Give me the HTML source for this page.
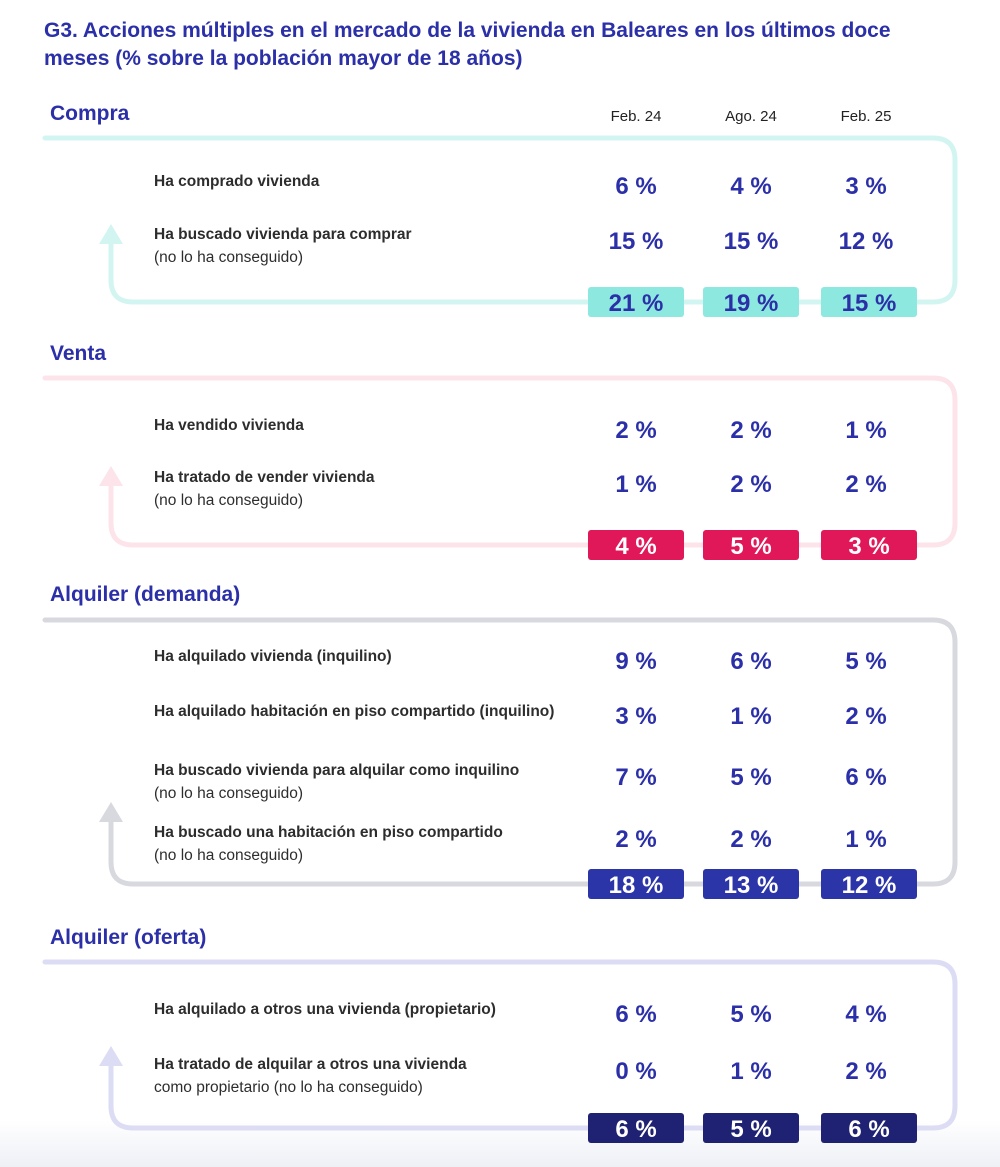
<!DOCTYPE html>
<html><head><meta charset="utf-8"><style>
body{margin:0;background:#fff;width:1000px;height:1167px;overflow:hidden;font-family:"Liberation Sans",sans-serif}
svg{display:block}
</style></head><body>
<svg id="c" width="1000" height="1167" viewBox="0 0 1000 1167">
<defs><linearGradient id="bg" x1="0" y1="0" x2="0" y2="1"><stop offset="0" stop-color="#fff"/><stop offset="1" stop-color="#eef0f6"/></linearGradient></defs>
<rect x="0" y="1120" width="1000" height="47" fill="url(#bg)"/>
<text x="44" y="37" font-size="21" font-weight="bold" fill="#2b2fa8">G3. Acciones múltiples en el mercado de la vivienda en Baleares en los últimos doce</text>
<text x="44" y="65" font-size="21" font-weight="bold" fill="#2b2fa8">meses (% sobre la población mayor de 18 años)</text>
<g id="g"></g>
</svg>
<script>
const periods=["Feb. 24","Ago. 24","Feb. 25"];
const sectionTitles=["Compra","Venta","Alquiler (demanda)","Alquiler (oferta)"];
const compraLabels=[["Ha comprado vivienda"],["Ha buscado vivienda para comprar","(no lo ha conseguido)"]];
const compraValues=[[6,4,3],[15,15,12]];
const compraTotals=[21,19,15];
const ventaLabels=[["Ha vendido vivienda"],["Ha tratado de vender vivienda","(no lo ha conseguido)"]];
const ventaValues=[[2,2,1],[1,2,2]];
const ventaTotals=[4,5,3];
const demandaLabels=[["Ha alquilado vivienda (inquilino)"],["Ha alquilado habitación en piso compartido (inquilino)"],["Ha buscado vivienda para alquilar como inquilino","(no lo ha conseguido)"],["Ha buscado una habitación en piso compartido","(no lo ha conseguido)"]];
const demandaValues=[[9,6,5],[3,1,2],[7,5,6],[2,2,1]];
const demandaTotals=[18,13,12];
const ofertaLabels=[["Ha alquilado a otros una vivienda (propietario)"],["Ha tratado de alquilar a otros una vivienda","como propietario (no lo ha conseguido)"]];
const ofertaValues=[[6,5,4],[0,1,2]];
const ofertaTotals=[6,5,6];

const colX=[636,751,866];
const NS="http://www.w3.org/2000/svg";
const g=document.getElementById('g');
function el(t,a,txt){const e=document.createElementNS(NS,t);for(const k in a)e.setAttribute(k,a[k]);if(txt!==undefined)e.textContent=txt;g.appendChild(e);return e;}

periods.forEach((p,i)=>{
 const t=el('text',{x:colX[i],y:121,'font-size':15,fill:'#222','text-anchor':'middle'},p);
 
 
});

const sections=[
 {labels:compraLabels,values:compraValues,totals:compraTotals,titleY:120,top:138,bottom:302,rows:[186,241],arrowY:230,line:'#d3f5f2',badge:'#8de8df',btxt:'#2b2fa8'},
 {labels:ventaLabels,values:ventaValues,totals:ventaTotals,titleY:360,top:378,bottom:545,rows:[430,484],arrowY:472,line:'#fce4ea',badge:'#e0185a',btxt:'#fff'},
 {labels:demandaLabels,values:demandaValues,totals:demandaTotals,titleY:601,top:620,bottom:884,rows:[661,716,777,839],arrowY:808,line:'#d8d9df',badge:'#2b35a8',btxt:'#fff'},
 {labels:ofertaLabels,values:ofertaValues,totals:ofertaTotals,titleY:944,top:962,bottom:1128,rows:[1014,1071],arrowY:1052,line:'#dcdcf4',badge:'#1f2272',btxt:'#fff'}
];
sections.forEach((s,si)=>{
 const t=el('text',{x:50,y:s.titleY,'font-size':21,'font-weight':'bold',fill:'#2b2fa8'},sectionTitles[si]);
 
 
 const r=22,L=45,R=955,AX=111;
 const d=`M${L},${s.top} H${R-r} Q${R},${s.top} ${R},${s.top+r} V${s.bottom-r} Q${R},${s.bottom} ${R-r},${s.bottom} H${AX+r} Q${AX},${s.bottom} ${AX},${s.bottom-r} V${s.arrowY+12}`;
 const p=el('path',{d:d,fill:'none',stroke:s.line,'stroke-width':5,'stroke-linecap':'round'});
 
 
 const a=el('polygon',{points:`${AX-12},${s.arrowY+14} ${AX},${s.arrowY-6} ${AX+12},${s.arrowY+14}`,fill:s.line});
 
 
 s.labels.forEach((lab,ri)=>{
  const y=s.rows[ri];
  lab.forEach((ln,li)=>{
   const tt=el('text',{x:154,y:y+(lab.length>1?-2:0)+li*23,'font-size':15.5,'font-weight':li==0?'bold':'normal',fill:'#2d2d2d'},ln);
   
   
  });
  s.values[ri].forEach((v,ci)=>{
   const vt=el('text',{x:colX[ci],y:y+8,'font-size':24,'font-weight':'bold',fill:'#2b2fa8','text-anchor':'middle'},v+' %');
   
   
  });
 });
 s.totals.forEach((v,ci)=>{
  const b=el('rect',{x:colX[ci]-48+(ci==2?3:0),y:s.bottom-15,width:96,height:30,rx:3,fill:s.badge});
  
  
  const bt=el('text',{x:colX[ci]+(ci==2?3:0),y:s.bottom+9,'font-size':24,'font-weight':'bold',fill:s.btxt,'text-anchor':'middle'},v+' %');
  
  
 });
});
</script>
</body></html>
